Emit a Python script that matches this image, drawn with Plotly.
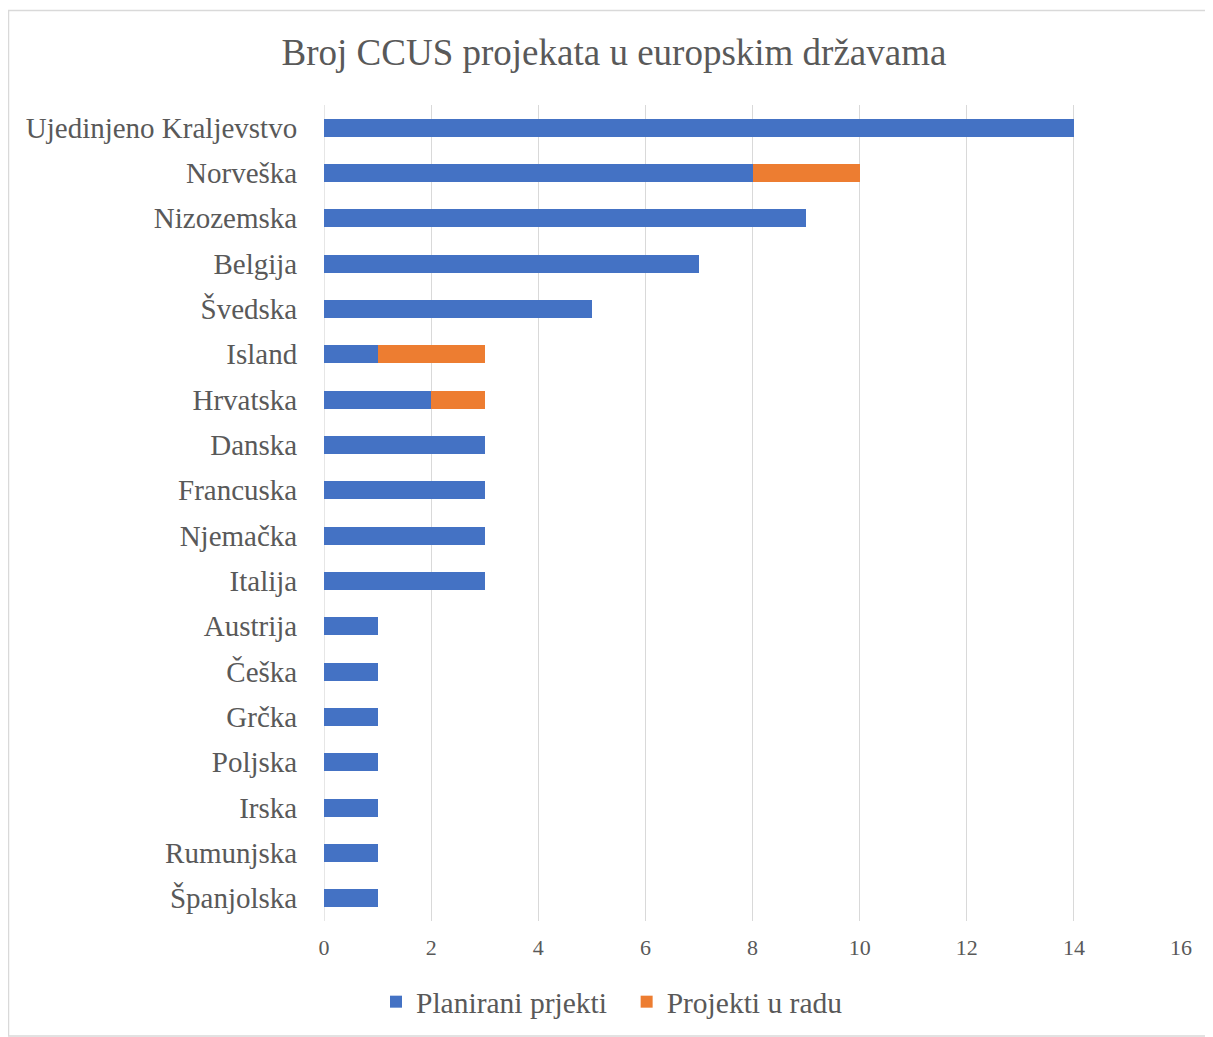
import plotly.graph_objects as go

countries = ["Ujedinjeno Kraljevstvo", "Norveška", "Nizozemska", "Belgija", "Švedska",
             "Island", "Hrvatska", "Danska", "Francuska", "Njemačka", "Italija",
             "Austrija", "Češka", "Grčka", "Poljska", "Irska", "Rumunjska", "Španjolska"]
planned = [14, 8, 9, 7, 5, 1, 2, 3, 3, 3, 3, 1, 1, 1, 1, 1, 1, 1]
operating = [0, 2, 0, 0, 0, 2, 1, 0, 0, 0, 0, 0, 0, 0, 0, 0, 0, 0]
x_ticks = [0, 2, 4, 6, 8, 10, 12, 14, 16]

FONT = "Liberation Serif, Times New Roman, serif"
GRAY = "#595959"

fig = go.Figure()
fig.add_trace(go.Bar(y=countries, x=planned, orientation="h", name="Planirani prjekti\u00a0\u00a0",
                     marker=dict(color="#4472C4", line=dict(width=0)), width=0.4))
fig.add_trace(go.Bar(y=countries, x=operating, orientation="h", name="Projekti u radu",
                     marker=dict(color="#ED7D31", line=dict(width=0)), width=0.4))

# page body has an 8px margin; figure coordinates are page coordinates minus 8
OFF = 8
W, H = 1205, 1029
L, R, T, B = 316, 32, 97, 116
pw, ph = W - L - R, H - T - B

def px_x(p):
    return (p - OFF - L) / pw

def px_y(p):
    return (H - B - (p - OFF)) / ph

fig.add_shape(type="rect", xref="paper", yref="paper",
              x0=px_x(8.5), x1=px_x(1212), y0=px_y(1036), y1=px_y(10.5),
              line=dict(color="#d9d9d9", width=1.5), fillcolor="rgba(0,0,0,0)", layer="below")

fig.update_layout(
    width=W, height=H,
    margin=dict(l=L, r=R, t=T, b=B, autoexpand=False),
    barmode="stack",
    paper_bgcolor="white", plot_bgcolor="white",
    font=dict(family=FONT, color=GRAY),
    title=dict(text="Broj CCUS projekata u europskim državama", x=(614 - OFF) / W, xanchor="center",
               y=1 - (52 - OFF) / H, yanchor="middle", font=dict(size=37, color=GRAY, family=FONT)),
    xaxis=dict(range=[0, 16], tickvals=x_ticks, showgrid=True, gridcolor="#d9d9d9", gridwidth=1.3,
               zeroline=False, showline=False, tickfont=dict(size=22, color=GRAY),
               ticks="outside", ticklen=7, tickcolor="rgba(0,0,0,0)"),
    yaxis=dict(autorange="reversed", showgrid=False, zeroline=False, showline=False,
               tickfont=dict(size=29, color=GRAY), ticks="outside", ticklen=20,
               tickcolor="rgba(0,0,0,0)"),
    legend=dict(orientation="h", x=px_x(612), xanchor="center", y=px_y(1002), yanchor="middle",
                font=dict(size=29.5, color=GRAY), traceorder="normal", itemwidth=30,
                bgcolor="rgba(0,0,0,0)"),
    hovermode=False,
    showlegend=True,
)
fig.add_shape(type="line", xref="x", yref="paper", x0=0, x1=0, y0=0, y1=1,
              line=dict(color="#d9d9d9", width=1.3), layer="below")

fig.write_html("out.html")
